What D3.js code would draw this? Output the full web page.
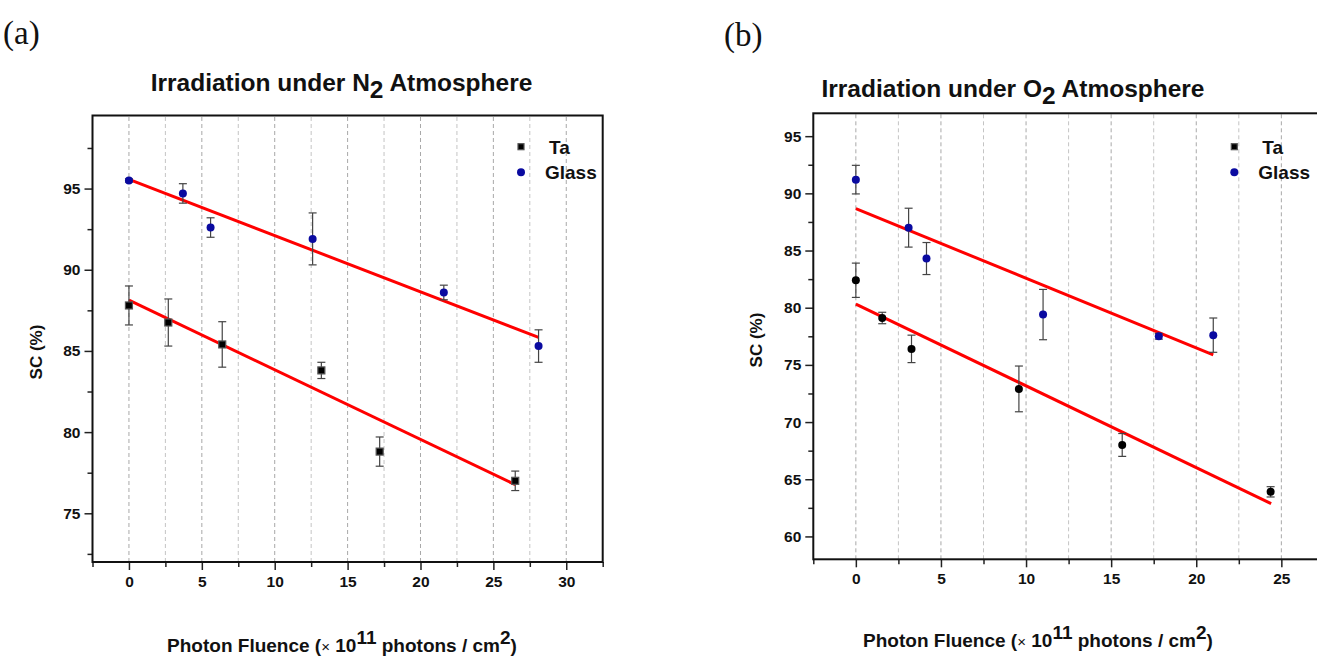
<!DOCTYPE html>
<html>
<head>
<meta charset="utf-8">
<script src="https://cdn.jsdelivr.net/npm/d3@7/dist/d3.min.js"></script>
<style>
  html, body { margin: 0; padding: 0; background: #fff; }
  svg { display: block; }
  text { font-family: "Liberation Sans", Arial, sans-serif; }
</style>
</head>
<body>
<svg id="chart" width="1317" height="656"></svg>
<script>
// ---------- Data ----------
// Panel (a): N2 atmosphere
const taA_x = [0, 2.7, 6.4, 13.2, 17.2, 26.5];
const taA_y = [87.8, 86.75, 85.4, 83.8, 78.8, 77.0];
const taA_err = [1.2, 1.45, 1.4, 0.5, 0.9, 0.6];
const glassA_x = [0, 3.7, 5.6, 12.6, 21.6, 28.1];
const glassA_y = [95.5, 94.7, 92.6, 91.9, 88.6, 85.3];
const glassA_err = [0.1, 0.6, 0.6, 1.6, 0.45, 1.0];
const fitA_ta_x = [0, 26.5];
const fitA_ta_y = [88.13, 76.76];
const fitA_glass_x = [0, 28.1];
const fitA_glass_y = [95.57, 85.83];

// Panel (b): O2 atmosphere
const taB_x = [0, 1.55, 3.27, 9.58, 15.65, 24.37];
const taB_y = [82.4, 79.1, 76.4, 72.9, 68.0, 63.9];
const taB_err = [1.5, 0.5, 1.2, 2.0, 1.0, 0.45];
const glassB_x = [0, 3.1, 4.15, 11.0, 17.8, 21.0];
const glassB_y = [91.2, 87.0, 84.3, 79.4, 77.5, 77.6];
const glassB_err = [1.25, 1.7, 1.4, 2.2, 0.25, 1.5];
const fitB_ta_x = [0, 24.4];
const fitB_ta_y = [80.32, 62.87];
const fitB_glass_x = [0, 21.0];
const fitB_glass_y = [88.67, 75.87];

// Tick values
const xTicksA = [0, 5, 10, 15, 20, 25, 30];
const xMinorA = [-2.5, 2.5, 7.5, 12.5, 17.5, 22.5, 27.5, 32.5];
const yTicksA = [75, 80, 85, 90, 95];
const yMinorA = [72.5, 77.5, 82.5, 87.5, 92.5, 97.5];
const xTicksB = [0, 5, 10, 15, 20, 25];
const xMinorB = [-2.5, 2.5, 7.5, 12.5, 17.5, 22.5, 27.5];
const yTicksB = [60, 65, 70, 75, 80, 85, 90, 95];
const yMinorB = [62.5, 67.5, 72.5, 77.5, 82.5, 87.5, 92.5];

const legendLabels = ["Ta", "Glass"];
const glassColor = "#0a0aa0";

const svg = d3.select("#chart");

function zip(xs, ys, es) { return xs.map((x, i) => ({x: x, y: ys[i], e: es ? es[i] : 0})); }

function drawPanel(cfg) {
  const x = d3.scaleLinear().domain(cfg.xDomain).range(cfg.xRange);
  const y = d3.scaleLinear().domain(cfg.yDomain).range(cfg.yRange);
  const g = svg.append("g");
  const [x0, x1] = cfg.xRange;
  const [yb, yt] = cfg.yRange;

  // grid (dashed verticals)
  const gridVals = cfg.xTicks.concat(cfg.xMinor).filter(v => v > cfg.xDomain[0] && v < cfg.xDomain[1]);
  g.append("g").selectAll("line").data(gridVals).join("line")
    .attr("x1", d => x(d)).attr("x2", d => x(d))
    .attr("y1", yb).attr("y2", yt)
    .attr("stroke", d => (d % 5 === 0) ? "#a8a8a8" : "#c4c4c4")
    .attr("stroke-width", 1)
    .attr("stroke-dasharray", "4,3");

  // axes
  const xAx = g.append("g").attr("transform", `translate(0,${yb})`)
    .call(d3.axisBottom(x).tickValues(cfg.xTicks).tickSize(8).tickPadding(6).tickFormat(d3.format("d")));
  const xAxMin = g.append("g").attr("transform", `translate(0,${yb})`)
    .call(d3.axisBottom(x).tickValues(cfg.xMinor).tickSize(5).tickFormat(""));
  const yAx = g.append("g").attr("transform", `translate(${x0},0)`)
    .call(d3.axisLeft(y).tickValues(cfg.yTicks).tickSize(8).tickPadding(4).tickFormat(d3.format("d")));
  const yAxMin = g.append("g").attr("transform", `translate(${x0},0)`)
    .call(d3.axisLeft(y).tickValues(cfg.yMinor).tickSize(5).tickFormat(""));
  [xAx, xAxMin, yAx, yAxMin].forEach(a => {
    a.select(".domain").remove();
    a.selectAll(".tick line").attr("stroke", "#222").attr("stroke-width", 1.5);
    a.selectAll(".tick text").attr("fill", "#111").attr("font-size", 15.5).attr("font-weight", "bold")
      .attr("font-family", "Liberation Sans, Arial, sans-serif");
  });

  // frame
  g.append("rect").attr("x", x0).attr("y", yt).attr("width", x1 - x0).attr("height", yb - yt)
    .attr("fill", "none").attr("stroke", "#111").attr("stroke-width", 2);

  // fit lines
  const line = d3.line().x(d => x(d.x)).y(d => y(d.y));
  [zip(cfg.fitTaX, cfg.fitTaY), zip(cfg.fitGlassX, cfg.fitGlassY)].forEach(pts => {
    g.append("path").attr("d", line(pts)).attr("fill", "none").attr("stroke", "#ff0000").attr("stroke-width", 3);
  });

  // error bars + markers
  function errBars(pts) {
    const eg = g.append("g").attr("stroke", "#444").attr("stroke-width", 1.2);
    pts.forEach(p => {
      if (p.e <= 0) return;
      eg.append("line").attr("x1", x(p.x)).attr("x2", x(p.x)).attr("y1", y(p.y + p.e)).attr("y2", y(p.y - p.e));
      [p.y + p.e, p.y - p.e].forEach(v => {
        eg.append("line").attr("x1", x(p.x) - 4).attr("x2", x(p.x) + 4).attr("y1", y(v)).attr("y2", y(v));
      });
    });
  }
  const taPts = zip(cfg.taX, cfg.taY, cfg.taErr);
  const glassPts = zip(cfg.glassX, cfg.glassY, cfg.glassErr);
  errBars(taPts);
  errBars(glassPts);

  if (cfg.taSquare) {
    g.append("g").selectAll("rect").data(taPts).join("rect")
      .attr("x", d => x(d.x) - 3.5).attr("y", d => y(d.y) - 3.5).attr("width", 7).attr("height", 7)
      .attr("fill", "#000").attr("stroke", "#555").attr("stroke-width", 1.2);
  } else {
    g.append("g").selectAll("circle").data(taPts).join("circle")
      .attr("cx", d => x(d.x)).attr("cy", d => y(d.y)).attr("r", 4).attr("fill", "#000");
  }
  g.append("g").selectAll("circle").data(glassPts).join("circle")
    .attr("cx", d => x(d.x)).attr("cy", d => y(d.y)).attr("r", 4).attr("fill", glassColor);

  // legend
  const lx = cfg.legendX, ly = cfg.legendY;
  g.append("rect").attr("x", lx - 3).attr("y", ly - 3).attr("width", 6).attr("height", 6)
    .attr("fill", "#000").attr("stroke", "#555").attr("stroke-width", 1.2);
  g.append("circle").attr("cx", lx).attr("cy", ly + 25.5).attr("r", 4).attr("fill", glassColor);
  g.append("text").attr("x", lx + 28).attr("y", ly + 7).attr("font-size", 19).attr("font-weight", "bold")
    .attr("fill", "#111").text(legendLabels[0]);
  g.append("text").attr("x", lx + 24).attr("y", ly + 32.5).attr("font-size", 19).attr("font-weight", "bold")
    .attr("fill", "#111").text(legendLabels[1]);

  // title
  const t = g.append("text").attr("x", cfg.titleX).attr("y", cfg.titleY).attr("text-anchor", "middle")
    .attr("font-size", 24.5).attr("font-weight", "bold").attr("fill", "#111");
  t.append("tspan").text("Irradiation under " + cfg.gas);
  t.append("tspan").attr("dy", 7).text("2");
  t.append("tspan").attr("dy", -7).text(" Atmosphere");

  // y label
  g.append("text").attr("transform", `translate(${cfg.yLabelX},${cfg.yLabelY}) rotate(-90)`)
    .attr("text-anchor", "middle").attr("font-size", 17).attr("font-weight", "bold").attr("fill", "#111")
    .text("SC (%)");

  // x label
  const xl = g.append("text").attr("x", cfg.xLabelX).attr("y", cfg.xLabelY).attr("text-anchor", "middle")
    .attr("font-size", 19).attr("font-weight", "bold").attr("fill", "#111");
  xl.append("tspan").text("Photon Fluence (");
  xl.append("tspan").attr("font-size", 15).attr("font-weight", "normal").text("\u00d7");
  xl.append("tspan").text(" 10");
  xl.append("tspan").attr("dy", -8).text("11");
  xl.append("tspan").attr("dy", 8).text(" photons / cm");
  xl.append("tspan").attr("dy", -8).text("2");
  xl.append("tspan").attr("dy", 8).text(")");

  // panel letter
  svg.append("text").attr("x", cfg.letterX).attr("y", cfg.letterY)
    .attr("font-size", 33).attr("fill", "#111")
    .style("font-family", "'Liberation Serif', 'Times New Roman', serif")
    .text(cfg.letter);
}

drawPanel({
  xDomain: [-2.5, 32.5], xRange: [92.5, 602.7],
  yDomain: [72, 99.5], yRange: [562, 115.5],
  xTicks: xTicksA, xMinor: xMinorA, yTicks: yTicksA, yMinor: yMinorA,
  taX: taA_x, taY: taA_y, taErr: taA_err, glassX: glassA_x, glassY: glassA_y, glassErr: glassA_err,
  fitTaX: fitA_ta_x, fitTaY: fitA_ta_y, fitGlassX: fitA_glass_x, fitGlassY: fitA_glass_y,
  taSquare: true,
  legendX: 521, legendY: 146.7,
  gas: "N", titleX: 341.5, titleY: 90.5,
  yLabelX: 42, yLabelY: 352,
  xLabelX: 342, xLabelY: 652,
  letter: "(a)", letterX: 3, letterY: 44
});

drawPanel({
  xDomain: [-2.5, 27.5], xRange: [813.3, 1323.9],
  yDomain: [58, 97], yRange: [559.3, 113.3],
  xTicks: xTicksB, xMinor: xMinorB, yTicks: yTicksB, yMinor: yMinorB,
  taX: taB_x, taY: taB_y, taErr: taB_err, glassX: glassB_x, glassY: glassB_y, glassErr: glassB_err,
  fitTaX: fitB_ta_x, fitTaY: fitB_ta_y, fitGlassX: fitB_glass_x, fitGlassY: fitB_glass_y,
  taSquare: false,
  legendX: 1234.3, legendY: 146.7,
  gas: "O", titleX: 1013, titleY: 96.5,
  yLabelX: 762, yLabelY: 340,
  xLabelX: 1038, xLabelY: 647,
  letter: "(b)", letterX: 724, letterY: 46
});
</script>
</body>
</html>
